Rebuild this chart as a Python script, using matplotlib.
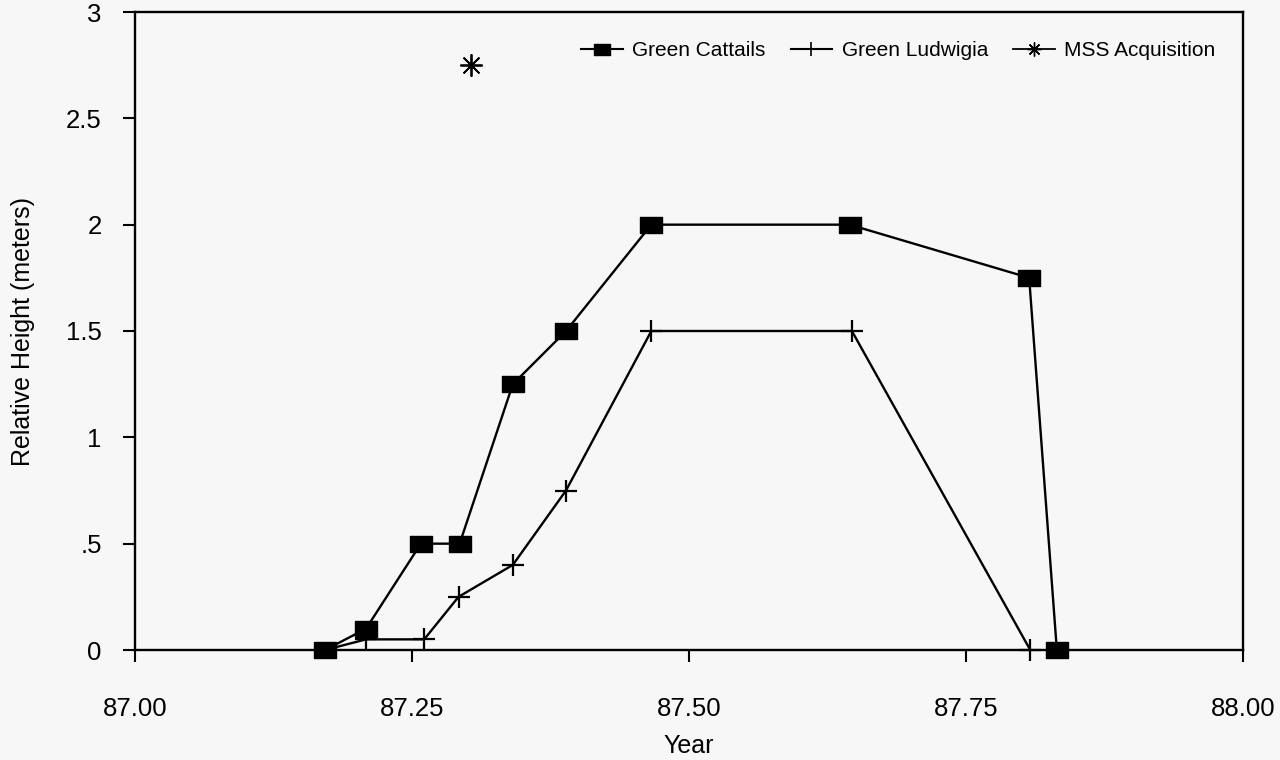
import matplotlib
matplotlib.use("Agg")
import matplotlib.pyplot as plt
from matplotlib.path import Path
from matplotlib.lines import Line2D

plt.rcParams['font.family'] = ['Liberation Sans', 'DejaVu Sans']

# Sampling dates (decimal year) and relative heights (m)
cattail_year = [87.1715, 87.2085, 87.258, 87.293, 87.341, 87.389, 87.466, 87.645, 87.807, 87.832]
cattail_height = [0.0, 0.1, 0.5, 0.5, 1.25, 1.5, 2.0, 2.0, 1.75, 0.0]

ludwigia_year = [87.1715, 87.2085, 87.261, 87.292, 87.341, 87.389, 87.466, 87.647, 87.808]
ludwigia_height = [0.0, 0.05, 0.05, 0.25, 0.4, 0.75, 1.5, 1.5, 0.0]

mss_year = [87.303]
mss_height = [2.75]

x_ticks = [87.00, 87.25, 87.50, 87.75, 88.00]
x_tick_labels = ["87.00", "87.25", "87.50", "87.75", "88.00"]
y_ticks = [0, 0.5, 1, 1.5, 2, 2.5, 3]
y_tick_labels = ["0", ".5", "1", "1.5", "2", "2.5", "3"]

bg = '#f7f7f7'
fig = plt.figure(figsize=(12.8, 7.6), dpi=100, facecolor=bg)
ax = fig.add_axes([135 / 1280, 1 - 650 / 760, (1243 - 135) / 1280, (650 - 12) / 760])
ax.set_facecolor(bg)

# wide rectangular marker for the cattail series
rect = Path([(-1, -0.72), (1, -0.72), (1, 0.72), (-1, 0.72), (-1, -0.72)],
            [Path.MOVETO, Path.LINETO, Path.LINETO, Path.LINETO, Path.CLOSEPOLY])

# the shared starting point is shown by the cattail square only
ax.plot(ludwigia_year, ludwigia_height, color='black', lw=1.7, marker='+',
        markersize=16, markeredgewidth=1.6, zorder=2, clip_on=False,
        markevery=list(range(1, len(ludwigia_year))))
ax.plot(cattail_year, cattail_height, color='black', lw=1.7, marker=rect,
        markersize=16, markerfacecolor='black', markeredgecolor='black',
        zorder=3, clip_on=False)
ax.plot(mss_year, mss_height, color='black', lw=1.2, marker=(8, 2, 0),
        markersize=16, markeredgewidth=1.3, zorder=2)

ax.set_xlim(87.0, 88.0)
ax.set_ylim(0, 3)
ax.set_xticks(x_ticks)
ax.set_xticklabels(x_tick_labels)
ax.set_yticks(y_ticks)
ax.set_yticklabels(y_tick_labels)

ax.tick_params(axis='x', direction='out', length=8.5, width=1.5, pad=25,
               labelsize=18.5, colors='black')
ax.tick_params(axis='y', direction='out', length=9, width=1.5, pad=15,
               labelsize=18.5, colors='black')
for s in ax.spines.values():
    s.set_linewidth(1.7)
    s.set_color('black')

ax.set_xlabel('Year', fontsize=18, labelpad=10)
ax.set_ylabel('Relative Height (meters)', fontsize=18, labelpad=22)

# legend keys with smaller markers than the plotted series
handles = [
    Line2D([], [], color='black', lw=1.5, marker=rect, markersize=11,
           markerfacecolor='black'),
    Line2D([], [], color='black', lw=1.5, marker='+', markersize=10,
           markeredgewidth=1.2),
    Line2D([], [], color='black', lw=1.3, marker=(8, 2, 0), markersize=10,
           markeredgewidth=1.0),
]
labels = ['Green Cattails', 'Green Ludwigia', 'MSS Acquisition']
ax.legend(handles, labels, loc='center right', bbox_to_anchor=(0.975, 0.939),
          ncol=3, frameon=False, fontsize=15, handlelength=2.0,
          handletextpad=0.45, columnspacing=1.2, borderpad=0, borderaxespad=0)

fig.savefig('out.png', dpi=100, facecolor=bg)
